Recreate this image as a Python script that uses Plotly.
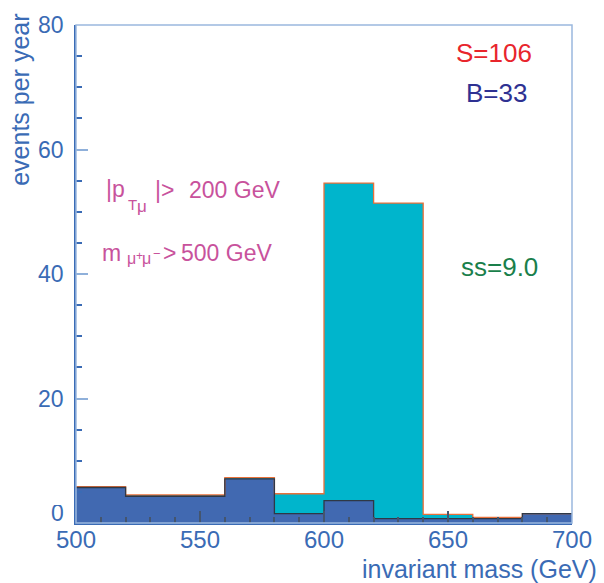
import plotly.graph_objects as go

# bin low edges (GeV), 20 GeV wide
bin_low = [500, 520, 540, 560, 580, 600, 620, 640, 660, 680]
bin_width = 20
# signal + background (events per year)
total = [5.85, 4.5, 4.5, 7.3, 4.7, 54.6, 51.4, 1.4, 0.9, 1.5]
# background only
background = [5.7, 4.3, 4.3, 7.1, 1.5, 3.6, 0.7, 0.7, 0.7, 1.5]

x_ticks = [500, 550, 600, 650, 700]
y_ticks = [0, 20, 40, 60, 80]
y_ticktext = ["", "20", "40", "60", "80"]  # "0" is drawn slightly raised, as in the original

AXIS = "#3A6BB5"
MAG = "#C8529C"
FONT = "Liberation Sans, Arial, sans-serif"

L, R, T, B = 76, 27, 20, 60
W, H = 604, 583
PW, PH = W - L - R, H - T - B


def px(xp):
    return (xp - L) / PW


def py(yp):
    return (H - B - yp) / PH


edges = bin_low + [bin_low[-1] + bin_width]

fig = go.Figure()
fig.add_trace(go.Bar(x=bin_low, y=total, width=[bin_width] * len(bin_low), offset=0,
                     marker=dict(color="#00B5CC", line=dict(width=0)), showlegend=False))
fig.add_trace(go.Bar(x=bin_low, y=background, width=[bin_width] * len(bin_low), offset=0,
                     marker=dict(color="#4169B1", line=dict(width=0)), showlegend=False))
fig.add_trace(go.Scatter(x=edges, y=total + [total[-1]], mode="lines", line_shape="hv",
                         line=dict(color="#E8703A", width=1.3), showlegend=False))
fig.add_trace(go.Scatter(x=edges, y=background + [background[-1]], mode="lines", line_shape="hv",
                         line=dict(color="#2F3846", width=1.3), showlegend=False))

fig.update_layout(
    width=W, height=H,
    margin=dict(l=L, r=R, t=T, b=B),
    paper_bgcolor="white", plot_bgcolor="white",
    barmode="overlay", bargap=0,
    font=dict(family=FONT, color=AXIS, size=24),
    xaxis=dict(range=[500, 700], tickvals=x_ticks, ticks="inside", ticklen=12, tickwidth=1.5,
               tickcolor="#44556E", showline=True, linecolor=AXIS, linewidth=1.5,
               showgrid=False, zeroline=False, tickfont=dict(size=24, color=AXIS),
               ticklabelstandoff=-6,
               minor=dict(ticks="inside", ticklen=6, dtick=10, tickwidth=1.5, tickcolor="#44556E", showgrid=False)),
    yaxis=dict(range=[0, 80], tickvals=y_ticks, ticktext=y_ticktext, ticks="inside", ticklen=12,
               tickwidth=1.5, tickcolor="#8FB0DA", showline=True, linecolor=AXIS, linewidth=1.5,
               showgrid=False, zeroline=False, tickfont=dict(size=23, color=AXIS),
               ticklabelstandoff=6,
               minor=dict(ticks="inside", ticklen=6, dtick=5, tickwidth=1.5, tickcolor=AXIS, showgrid=False)),
    shapes=[dict(type="rect", xref="paper", yref="paper", x0=0, x1=1, y0=0, y1=1,
                 line=dict(color="#9BB8DE", width=1.5), layer="above")],
)

ann = [
    dict(text="0", x=px(65), y=py(513), xanchor="right", height=16, borderpad=0,
         font=dict(size=23, color=AXIS)),
    dict(text="invariant mass (GeV)", x=px(604), y=py(569), xanchor="right",
         font=dict(size=25, color=AXIS)),
    dict(text="events per year", x=px(20), y=py(96), xanchor="center",
         textangle=-90, font=dict(size=25, color=AXIS)),
    dict(text="S=106", x=px(498), y=py(48), xanchor="center",
         font=dict(size=26, color="#E8252C")),
    dict(text="B=33", x=px(501), y=py(89), xanchor="center",
         font=dict(size=26, color="#2E3192")),
    dict(text="ss=9.0", x=px(504), y=py(264), xanchor="center",
         font=dict(size=26, color="#1A7F4B")),
    # |p_{T_mu}| > 200 GeV
    dict(text="|p", x=px(104), y=py(186), xanchor="left", font=dict(size=23, color=MAG)),
    dict(text="T", x=px(126), y=py(201), xanchor="left", font=dict(size=15, color=MAG)),
    dict(text="μ", x=px(136), y=py(203), xanchor="left", font=dict(size=17, color=MAG)),
    dict(text="|>", x=px(154), y=py(187), xanchor="left", font=dict(size=23, color=MAG)),
    dict(text="200 GeV", x=px(188), y=py(187), xanchor="left", font=dict(size=23, color=MAG)),
    # m_{mu+ mu-} > 500 GeV
    dict(text="m", x=px(100), y=py(250), xanchor="left", font=dict(size=23, color=MAG)),
    dict(text="μ", x=px(125), y=py(256), xanchor="left", font=dict(size=16, color=MAG)),
    dict(text="+", x=px(135), y=py(253), xanchor="left", font=dict(size=12, color=MAG)),
    dict(text="μ", x=px(141), y=py(256), xanchor="left", font=dict(size=16, color=MAG)),
    dict(text="−", x=px(152), y=py(251), xanchor="left", font=dict(size=13, color=MAG)),
    dict(text=">", x=px(162), y=py(250), xanchor="left", font=dict(size=23, color=MAG)),
    dict(text="500 GeV", x=px(180), y=py(250), xanchor="left", font=dict(size=23, color=MAG)),
]
for a in ann:
    a.update(xref="paper", yref="paper", showarrow=False, yanchor="middle")
    fig.add_annotation(**a)

fig.write_html("out.html")
